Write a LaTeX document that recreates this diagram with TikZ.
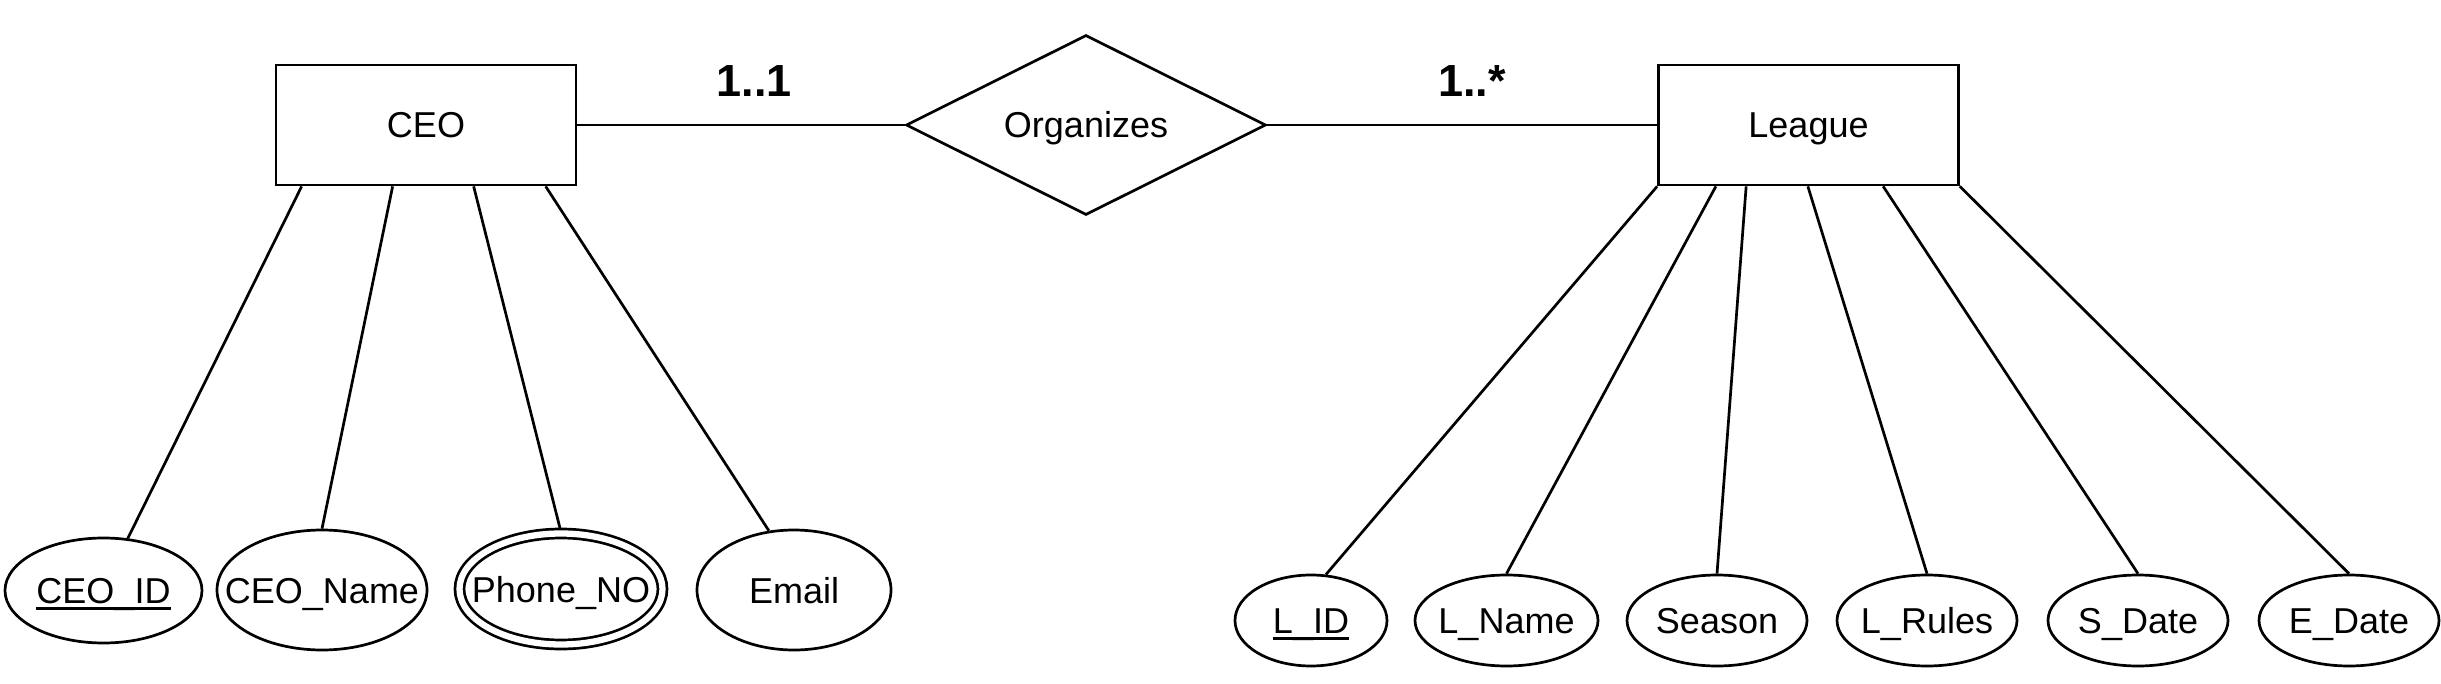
\documentclass[tikz,border=0pt]{standalone}
\usepackage{fontspec}
\setmainfont{Liberation Sans}
\usetikzlibrary{shapes.geometric,backgrounds}
\newcommand{\keyul}[1]{{\setbox0\hbox{#1}\rlap{\rule[-6.3pt]{\wd0}{2.7pt}}\box0}}
\begin{document}
\begin{tikzpicture}[x=1pt,y=-1pt,
  lw/.style={line width=2.7pt},
  entity/.style={draw,lw,fill=white,rectangle,minimum width=300pt,minimum height=120pt,inner sep=0pt},
  rel/.style={draw,lw,fill=white,diamond,minimum width=360pt,minimum height=180pt,inner sep=0pt},
  attr/.style={draw,lw,fill=white,ellipse,inner sep=0pt},
  txt/.style={font=\fontsize{36}{40}\selectfont,text height=26pt,text depth=0pt,inner sep=0pt},
  card/.style={font=\fontsize{45}{50}\selectfont\bfseries,inner sep=0pt,anchor=base},
  conn/.style={lw}]
\useasboundingbox (0,0) rectangle (2441,684);

% entities and relationship
\node[entity,txt] (ceo) at (426,125) {CEO};
\node[rel,label={[txt]center:Organizes}] (org) at (1086,125) {};
\node[entity,txt] (league) at (1808.5,125) {League};

% cardinalities
\node[card] (c1) at (754,97) {1..1};
\node[card] (c2) at (1472,97) {1..*};

% CEO attributes
\node[attr,minimum width=197pt,minimum height=105pt,label={[txt]center:\keyul{CEO\_ID}}] (cid) at (103.5,590.5) {};
\node[attr,minimum width=210pt,minimum height=120pt,label={[txt]center:CEO\_Name}] (cname) at (322,590) {};
\node[attr,double,double distance=6.3pt,minimum width=203pt,minimum height=111pt,label={[txt]center:Phone\_NO}] (phone) at (561,589) {};
\node[attr,minimum width=194pt,minimum height=120pt,label={[txt]center:Email}] (email) at (794,590) {};

% League attributes
\node[attr,minimum width=152pt,minimum height=91pt,label={[txt]center:\keyul{L\_ID}}] (lid) at (1311,620.5) {};
\node[attr,minimum width=183pt,minimum height=91pt,label={[txt]center:L\_Name}] (lname) at (1506.5,620.5) {};
\node[attr,minimum width=180pt,minimum height=91pt,label={[txt]center:Season}] (season) at (1717,620.5) {};
\node[attr,minimum width=180pt,minimum height=91pt,label={[txt]center:L\_Rules}] (lrules) at (1927,620.5) {};
\node[attr,minimum width=180pt,minimum height=91pt,label={[txt]center:S\_Date}] (sdate) at (2138,620.5) {};
\node[attr,minimum width=180pt,minimum height=91pt,label={[txt]center:E\_Date}] (edate) at (2349,620.5) {};

\begin{scope}[on background layer]
\fill[white] (0,0) rectangle (2441,684);
\draw[conn] (ceo.east) -- (org.west);
\draw[conn] (org.east) -- (league.west);
\draw[conn] ([xshift=27pt]ceo.south west) -- (cid.65);
\draw[conn] ([xshift=118pt]ceo.south west) -- (cname.north);
\draw[conn] ([xshift=199pt]ceo.south west) -- (phone.north);
\draw[conn] ([xshift=271pt]ceo.south west) -- (email.113);
\draw[conn] (league.south west) -- (lid.72);
\draw[conn] ([xshift=58.7pt]league.south west) -- (lname.north);
\draw[conn] ([xshift=89pt]league.south west) -- (season.north);
\draw[conn] ([xshift=150.7pt]league.south west) -- (lrules.north);
\draw[conn] ([xshift=226pt]league.south west) -- (sdate.north);
\draw[conn] (league.south east) -- (edate.north);
\end{scope}
\end{tikzpicture}
\end{document}
